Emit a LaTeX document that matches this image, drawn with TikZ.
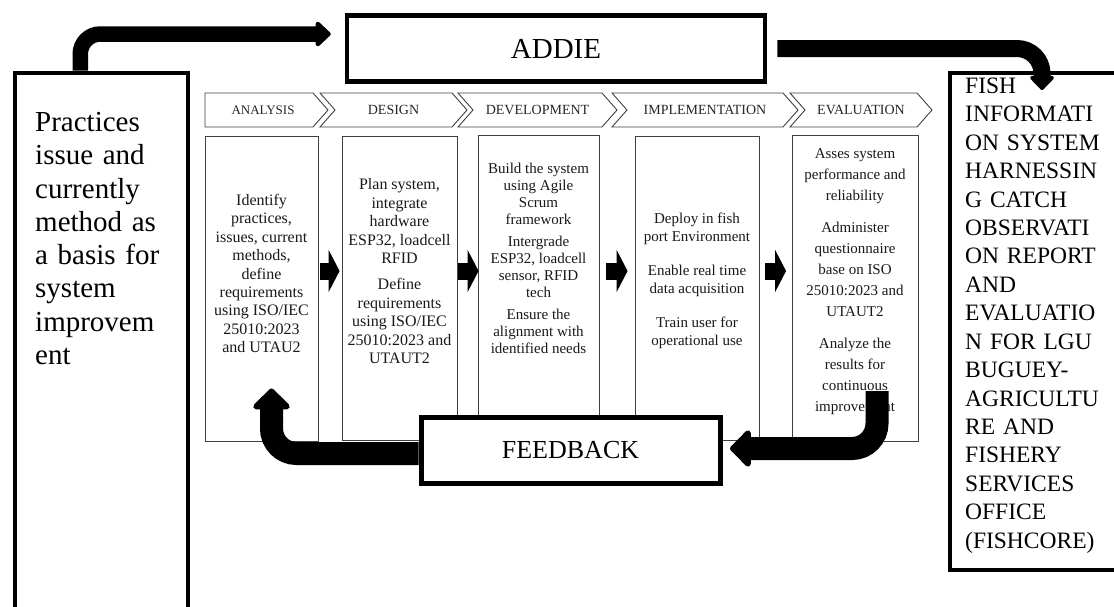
\documentclass[tikz,border=0pt]{standalone}
\usepackage{fontspec}
\setmainfont{Liberation Serif}
\usetikzlibrary{arrows.meta}
\begin{document}
\begin{tikzpicture}[x=1pt,y=-1pt,
  thickbox/.style={draw=black, line width=4.5pt, fill=white, inner sep=0pt},
  stagebox/.style={draw=black!75, line width=0.9pt, fill=white, inner sep=0pt},
  chev/.style={draw=black!75, line width=0.9pt, fill=white},
  chevtext/.style={font=\fontsize{14}{16}\selectfont, text=black!85, inner sep=0pt},
  stagetext/.style={align=center, inner sep=0pt, text=black!90},
  toparrow/.style={line width=15.5pt, rounded corners=20pt, -{Triangle[length=16pt,width=29pt,round]}},
  rightarrow/.style={line width=17pt, rounded corners=25pt, -{Triangle[length=15pt,width=28pt,round]}},
  fbarrow/.style={line width=23pt, rounded corners=25pt, -{Triangle[length=22pt,width=43pt,round]}},
  smallarrow/.style={line width=17pt, -{Triangle[length=11pt,width=42pt]}}
]
\useasboundingbox (0,0) rectangle (1114,606);

% side boxes
\node[thickbox, anchor=north west, minimum width=173pt, minimum height=550pt] (left) at (12.5,70.5) {};
\node[anchor=north west, inner sep=0pt, text width=150pt, align=left,
      font=\fontsize{29}{33.3}\selectfont] (lefttext) at (35,112)
  {Practices\\issue and\\currently\\method as\\a basis for\\system\\improvem\\ent};

\node[thickbox, anchor=north west, minimum width=180pt, minimum height=497pt] (right) at (947.5,70.5) {};
\node[anchor=north west, inner sep=0pt, text width=150pt, align=left,
      font=\fontsize{23.5}{28.44}\selectfont] (righttext) at (965,77.5)
  {FISH\\INFORMATI\\ON SYSTEM\\HARNESSIN\\G CATCH\\OBSERVATI\\ON REPORT\\AND\\EVALUATIO\\N FOR LGU\\BUGUEY-\\AGRICULTU\\RE AND\\FISHERY\\SERVICES\\OFFICE\\(FISHCORE)};

% ADDIE
\node[thickbox, minimum width=418pt, minimum height=66pt, font=\fontsize{29}{33}\selectfont] (addie) at (556,48.5) {ADDIE};

% chevrons
\draw[chev] (205,93) -- (313,93) -- (328,110) -- (313,127) -- (205,127) -- cycle;
\draw[chev] (320,93) -- (452,93) -- (467,110) -- (452,127) -- (320,127) -- (335,110) -- cycle;
\draw[chev] (458,93) -- (602,93) -- (617,110) -- (602,127) -- (458,127) -- (473,110) -- cycle;
\draw[chev] (612,93) -- (783,93) -- (798,110) -- (783,127) -- (612,127) -- (627,110) -- cycle;
\draw[chev] (790,93) -- (917,93) -- (932,110) -- (917,127) -- (790,127) -- (805,110) -- cycle;
\node[chevtext, font=\fontsize{13}{15}\selectfont] (c1) at (263,110) {ANALYSIS};
\node[chevtext] (c2) at (393.5,110) {DESIGN};
\node[chevtext] (c3) at (537.5,110) {DEVELOPMENT};
\node[chevtext] (c4) at (705,110) {IMPLEMENTATION};
\node[chevtext] (c5) at (861,110) {EVALUATION};

% stage boxes
\node[stagebox, minimum width=113pt, minimum height=305pt] (b1) at (261.5,288.5) {};
\node[stagebox, minimum width=115pt, minimum height=304pt] (b2) at (399.5,288) {};
\node[stagebox, minimum width=121pt, minimum height=305pt] (b3) at (538.5,287.5) {};
\node[stagebox, minimum width=124pt, minimum height=304pt] (b4) at (697,288) {};
\node[stagebox, minimum width=126pt, minimum height=306pt] (b5) at (855,288) {};

\node[stagetext, font=\fontsize{16}{18.4}\selectfont] (t1) at (261.5,273.5)
  {Identify\\practices,\\issues, current\\methods,\\define\\requirements\\using ISO/IEC\\25010:2023\\and UTAU2};
\node[stagetext, font=\fontsize{16}{18.5}\selectfont] (t2) at (399.5,271.5)
  {Plan system,\\integrate\\hardware\\ESP32, loadcell\\RFID\\[7.5pt]Define\\requirements\\using ISO/IEC\\25010:2023 and\\UTAUT2};
\node[stagetext, font=\fontsize{15}{17}\selectfont] (t3) at (538.5,258)
  {Build the system\\using Agile\\Scrum\\framework\\[5pt]Intergrade\\ESP32, loadcell\\sensor, RFID\\tech\\[5pt]Ensure the\\alignment with\\identified needs};
\node[stagetext, font=\fontsize{15}{18}\selectfont] (t4) at (697,281)
  {Deploy in fish\\port Environment\\[16pt]Enable real time\\data acquisition\\[16pt]Train user for\\operational use};
\node[stagetext, font=\fontsize{15}{21}\selectfont] (t5) at (855,282)
  {Asses system\\performance and\\reliability\\[11pt]Administer\\questionnaire\\base on ISO\\25010:2023 and\\UTAUT2\\[11pt]Analyze the\\results for\\continuous\\improvement};

% small arrows between stages
\draw[smallarrow] ([xshift=2pt,yshift=17.5pt]b1.east) -- ([xshift=-2pt,yshift=17pt]b2.west);
\draw[smallarrow] ([xshift=1pt,yshift=17pt]b2.east) -- ([xshift=1pt,yshift=16.5pt]b3.west);
\draw[smallarrow] ([xshift=7pt,yshift=16.5pt]b3.east) -- ([xshift=-7pt,yshift=17pt]b4.west);
\draw[smallarrow] ([xshift=5.5pt,yshift=17pt]b4.east) -- ([xshift=-5.5pt,yshift=17pt]b5.west);

% FEEDBACK
\node[thickbox, line width=5pt, minimum width=299pt, minimum height=66pt, font=\fontsize{26}{30}\selectfont] (feedback) at (570.5,450) {FEEDBACK};

% top arrows
\draw[toparrow] ([xshift=-21pt]left.north) |- ([xshift=-14pt,yshift=14.5pt]addie.west);
\coordinate (a2end) at (1042,90);
\draw[rightarrow] ([xshift=10pt]addie.east) -| (a2end);

% feedback arrows
\coordinate (fbstart) at (877,391);
\draw[fbarrow] (fbstart) |- ([xshift=7.5pt,yshift=1.5pt]feedback.east);
\draw[fbarrow] ([yshift=-3.5pt]feedback.west) -| ([xshift=10pt,yshift=53pt]b1.south);
\end{tikzpicture}
\end{document}
